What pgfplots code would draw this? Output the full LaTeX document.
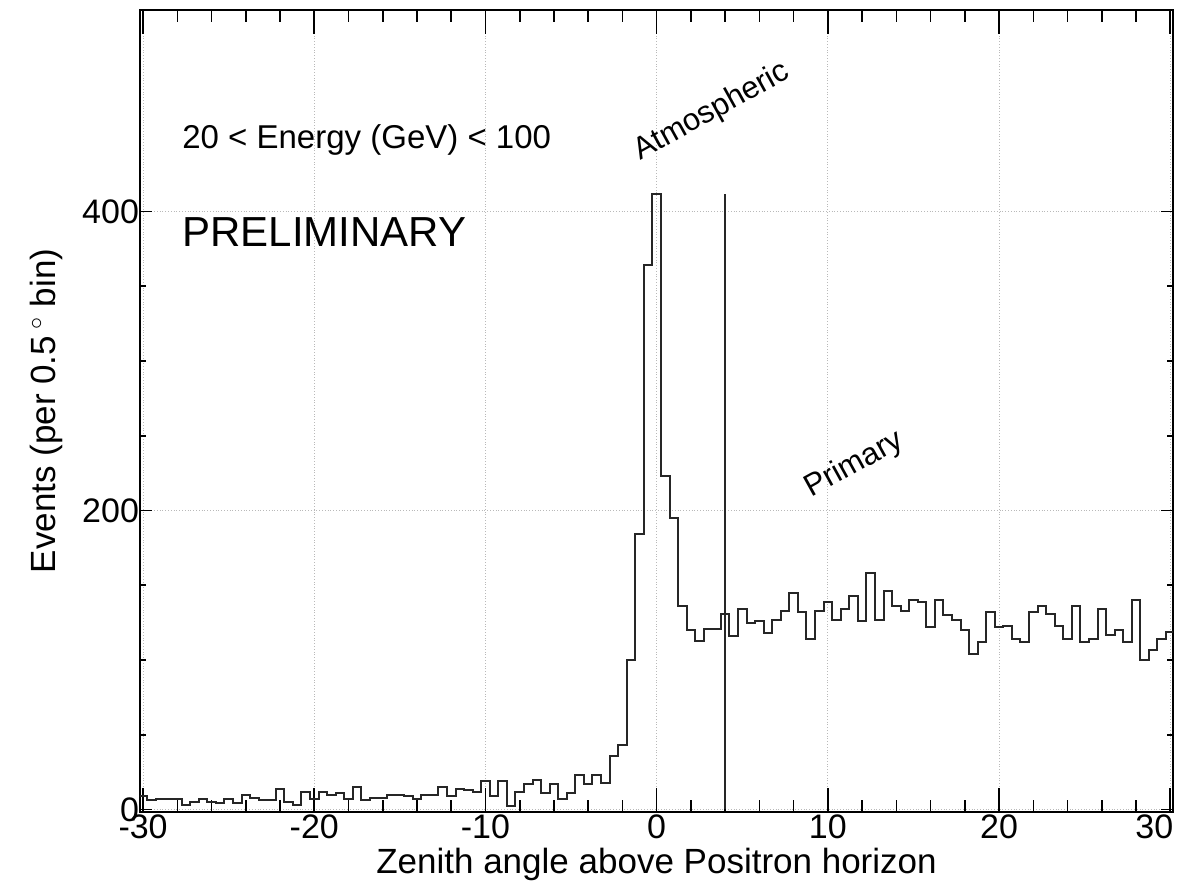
\documentclass[border=0pt]{standalone}
\usepackage{pgfplots}
\pgfplotsset{compat=1.18}
\usepackage{pgfplotstable}
\usepackage{fontspec}
\setmainfont{Liberation Sans}

% left bin edge, events per 0.5 deg bin
\pgfplotstableread{
x y
-30.25 9
-29.75 6
-29.25 7
-28.75 7
-28.25 7
-27.75 3
-27.25 5
-26.75 7
-26.25 5
-25.75 4
-25.25 7
-24.75 4
-24.25 10
-23.75 8
-23.25 6
-22.75 6
-22.25 14
-21.75 5
-21.25 3
-20.75 12
-20.25 7
-19.75 12
-19.25 10
-18.75 11
-18.25 7
-17.75 15
-17.25 6
-16.75 8
-16.25 8
-15.75 10
-15.25 10
-14.75 9
-14.25 7
-13.75 10
-13.25 10
-12.75 15
-12.25 9
-11.75 14
-11.25 13
-10.75 12
-10.25 19
-9.75 9
-9.25 19
-8.75 2
-8.25 12
-7.75 17
-7.25 20
-6.75 11
-6.25 17
-5.75 7
-5.25 11
-4.75 23
-4.25 17
-3.75 23
-3.25 18
-2.75 36
-2.25 43
-1.75 100
-1.25 184
-0.75 364
-0.25 412
0.25 223
0.75 195
1.25 136
1.75 120
2.25 113
2.75 121
3.25 121
3.75 131
4.25 116
4.75 134
5.25 125
5.75 126
6.25 118
6.75 127
7.25 133
7.75 145
8.25 132
8.75 114
9.25 133
9.75 139
10.25 127
10.75 134
11.25 143
11.75 126
12.25 158
12.75 127
13.25 146
13.75 136
14.25 133
14.75 140
15.25 139
15.75 122
16.25 140
16.75 130
17.25 127
17.75 120
18.25 104
18.75 112
19.25 132
19.75 122
20.25 123
20.75 114
21.25 112
21.75 132
22.25 136
22.75 131
23.25 123
23.75 114
24.25 136
24.75 112
25.25 114
25.75 134
26.25 117
26.75 120
27.25 112
27.75 140
28.25 100
28.75 107
29.25 114
29.75 119
30.25 119
}\histdata

\begin{document}
\begin{tikzpicture}
\begin{axis}[
  name=ax, at={(0,0)}, anchor=south west,
  scale only axis, width=516.5pt, height=401pt,
  xmin=-30.18, xmax=30.16, ymin=-1.7, ymax=534.8,
  xtick={-30,-20,-10,0,10,20,30},
  xticklabels={-30,-20,-10,0,10,20,\makebox[3pt][r]{30}},
  minor x tick num=4,
  ytick={0,200,400}, yticklabels={0,200,400},
  minor y tick num=3,
  tick align=inside,
  major tick length=12pt, minor tick length=6pt,
  ytick style={/pgfplots/major tick length=6pt, /pgfplots/minor tick length=3pt},
  grid=major, grid style={densely dotted, gray!55, line width=0.5pt},
  axis line style={line width=1pt},
  every tick/.style={black, line width=0.8pt},
  ticklabel style={font=\fontsize{17}{20}\selectfont},
  xticklabel style={yshift=2pt},
  yticklabel style={xshift=3pt},
  label style={font=\fontsize{17.5}{21}\selectfont},
  xlabel={Zenith angle above Positron horizon},
  xlabel style={yshift=2.5pt},
  ylabel={Events (per 0.5\,$^{\circ}$ bin)},
  ylabel style={yshift=3pt},
  clip=true,
]
\addplot[const plot mark left, black!85, line width=1pt] table[x=x, y=y] {\histdata};
\addplot[black!85, line width=0.8pt] coordinates {(4,0) (4,412)};
\node[anchor=west, inner sep=0pt, font=\fontsize{16.5}{20}\selectfont] at (axis cs:-27.73,447.8) {20 < Energy (GeV) < 100};
\node[anchor=west, inner sep=0pt, font=\fontsize{21}{25}\selectfont] at (axis cs:-27.73,386.3) {PRELIMINARY};
\node[rotate=29, font=\fontsize{15.5}{18}\selectfont] at (axis cs:3.24,466.6) {Atmospheric};
\node[rotate=29, font=\fontsize{15.5}{18}\selectfont] at (axis cs:11.55,230.4) {Primary};
\end{axis}
\pgfresetboundingbox
\path[use as bounding box] (-70pt,-35pt) rectangle (523pt,406pt);
\end{tikzpicture}
\end{document}
